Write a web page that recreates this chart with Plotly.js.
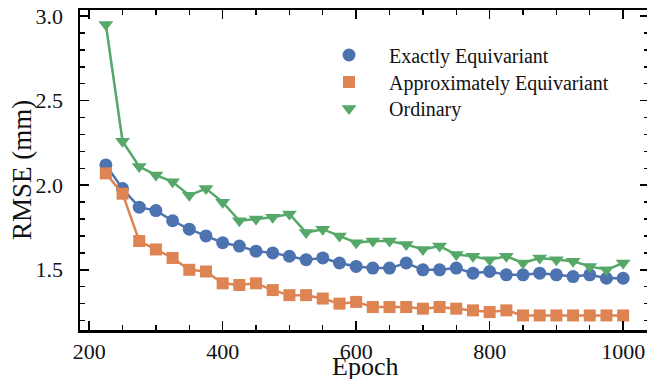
<!DOCTYPE html>
<html>
<head>
<meta charset="utf-8">
<script src="https://cdn.plot.ly/plotly-3.0.1.min.js"></script>
<style>
  html, body { margin: 0; padding: 0; overflow: hidden; background: #fff; }
  #chart { width: 650px; height: 379px; }
</style>
</head>
<body>
<div id="chart"></div>
<script>
// Validation RMSE per training epoch for three model variants
const epochs = [225, 250, 275, 300, 325, 350, 375, 400, 425, 450, 475, 500, 525, 550, 575, 600,
                625, 650, 675, 700, 725, 750, 775, 800, 825, 850, 875, 900, 925, 950, 975, 1000];

const exactlyEquivariant = [2.12, 1.98, 1.87, 1.85, 1.79, 1.74, 1.70, 1.66, 1.64, 1.61, 1.60, 1.58, 1.56, 1.57, 1.54, 1.52,
                            1.51, 1.51, 1.54, 1.50, 1.50, 1.51, 1.48, 1.49, 1.47, 1.47, 1.48, 1.47, 1.46, 1.47, 1.45, 1.45];

const approxEquivariant = [2.07, 1.95, 1.67, 1.62, 1.57, 1.50, 1.49, 1.42, 1.41, 1.42, 1.38, 1.35, 1.35, 1.33, 1.30, 1.31,
                           1.28, 1.28, 1.28, 1.27, 1.28, 1.27, 1.26, 1.25, 1.26, 1.23, 1.23, 1.23, 1.23, 1.23, 1.23, 1.23];

const ordinary = [2.95, 2.26, 2.11, 2.06, 2.02, 1.94, 1.98, 1.90, 1.79, 1.80, 1.81, 1.83, 1.72, 1.74, 1.70, 1.66,
                  1.67, 1.67, 1.65, 1.62, 1.64, 1.59, 1.58, 1.56, 1.58, 1.54, 1.57, 1.56, 1.55, 1.52, 1.50, 1.54];

const seriesNames = ['Exactly Equivariant', 'Approximately Equivariant', 'Ordinary'];
const xTickVals = [200, 400, 600, 800, 1000];
const yTickVals = [1.5, 2.0, 2.5, 3.0];

const X_RANGE = [186.25, 1038.75];
const Y_RANGE = [1.144, 3.036];

const series = [
  { y: exactlyEquivariant, color: '#4C72B0', symbol: 'circle', size: 13 },
  { y: approxEquivariant,  color: '#DD8452', symbol: 'square', size: 12 },
  { y: ordinary,           color: '#55A868', symbol: 'triangle-down', size: 13 }
];
const legendIds = ['legend', 'legend2', 'legend3'];

const FONT = 'Liberation Serif, Times New Roman, serif';
const INK = '#111';

const traces = [];
// lines with markers
series.forEach((s, i) => {
  traces.push({
    x: epochs, y: s.y, type: 'scatter', mode: 'lines+markers',
    name: seriesNames[i], showlegend: false,
    line: { color: s.color, width: 2.5 },
    marker: { color: s.color, symbol: s.symbol, size: s.size, line: { width: 0 } },
    cliponaxis: false
  });
});
// marker-only legend entries, one legend box per series
series.forEach((s, i) => {
  traces.push({
    x: [null], y: [null], type: 'scatter', mode: 'markers',
    name: seriesNames[i], legend: legendIds[i],
    marker: { color: s.color, symbol: s.symbol, size: s.size, line: { width: 0 } }
  });
});
// empty carriers for the tick-only frame axes (top, left, right)
[['x2', 'y2'], ['x2', 'y3']].forEach(([xa, ya]) => {
  traces.push({ x: epochs, y: ordinary, xaxis: xa, yaxis: ya, type: 'scatter', mode: 'none',
                hoverinfo: 'skip', showlegend: false });
});

const base = {
  showgrid: false, zeroline: false, automargin: false,
  showline: true, linecolor: '#000', linewidth: 2.5
};
const majorIn = { ticks: 'inside', ticklen: 9, tickwidth: 1.6, tickcolor: '#000' };
const xMinor = { dtick: 50, tick0: 0, ticks: 'inside', ticklen: 5, tickwidth: 1.4, tickcolor: '#000' };
const yMinor = { dtick: 0.1, tick0: 0, ticks: 'inside', ticklen: 5, tickwidth: 1.4, tickcolor: '#000' };
const tickFont = { family: FONT, size: 22, color: INK };

// frame axis carrying only inside ticks
function frameAxis(extra) {
  return Object.assign({}, base, majorIn, { showticklabels: false, tickmode: 'array' }, extra);
}

function legendBox(yPx) {
  return {
    x: 0.4025, y: 1 - (yPx - 10) / 320, xanchor: 'left', yanchor: 'middle',
    bgcolor: 'rgba(0,0,0,0)', borderwidth: 0, itemwidth: 70,
    font: { family: FONT, size: 20, color: INK }
  };
}

const layout = {
  width: 650, height: 379,
  margin: { l: 80, r: 1, t: 10, b: 49 },
  paper_bgcolor: '#fff', plot_bgcolor: '#fff',
  font: { family: FONT, color: INK },
  // bottom axis: labels, major and minor inside ticks (mirrored to the top)
  xaxis: Object.assign({}, base, majorIn, {
    range: X_RANGE, mirror: 'ticks',
    tickmode: 'array', tickvals: xTickVals, ticktext: xTickVals.map(String),
    tickfont: tickFont, minor: xMinor
  }),
  // left axis: labels only (transparent outer ticks set the label gap)
  yaxis: Object.assign({}, base, {
    range: Y_RANGE, mirror: true,
    tickmode: 'array', tickvals: yTickVals, ticktext: yTickVals.map(v => v.toFixed(1)),
    ticks: 'outside', ticklen: 10, tickcolor: 'rgba(0,0,0,0)',
    tickfont: tickFont
  }),
  xaxis2: frameAxis({ overlaying: 'x', side: 'top', anchor: 'y2', range: X_RANGE, tickvals: xTickVals, minor: xMinor }),
  yaxis2: frameAxis({ overlaying: 'y', side: 'left', anchor: 'x2', range: Y_RANGE, tickvals: yTickVals, minor: yMinor }),
  yaxis3: frameAxis({ overlaying: 'y', side: 'right', anchor: 'x2', range: Y_RANGE, tickvals: yTickVals, minor: yMinor }),
  annotations: [
    { text: 'Epoch', xref: 'paper', yref: 'paper', x: 0.5, y: -0.114, xanchor: 'center', yanchor: 'middle',
      showarrow: false, font: { family: FONT, size: 26, color: INK } },
    { text: 'RMSE (mm)', xref: 'paper', yref: 'paper', x: -0.1019, y: 0.5, xanchor: 'center', yanchor: 'middle',
      textangle: -90, showarrow: false, font: { family: FONT, size: 27, color: INK } }
  ],
  legend: legendBox(55),
  legend2: legendBox(82),
  legend3: legendBox(108.5),
  showlegend: true
};

Plotly.newPlot('chart', traces, layout, { displayModeBar: false, staticPlot: true });
</script>
</body>
</html>
